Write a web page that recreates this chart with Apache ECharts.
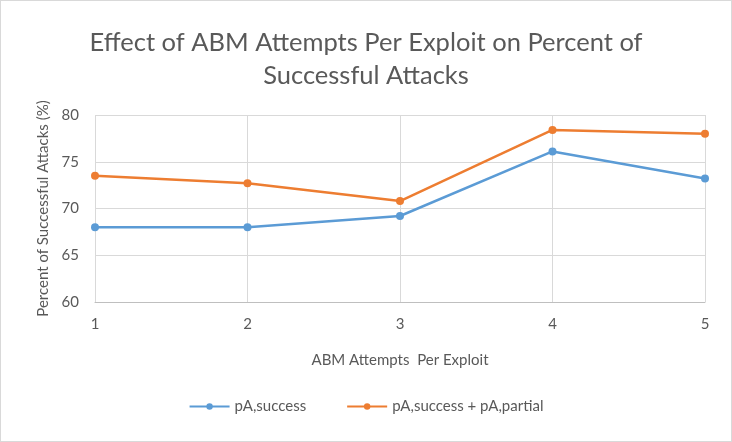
<!DOCTYPE html>
<html>
<head>
<meta charset="utf-8">
<script src="https://cdn.jsdelivr.net/npm/echarts@6/dist/echarts.min.js"></script>
<style>
  html, body { margin: 0; padding: 0; background: #fff; }
  #chart {
    width: 732px;
    height: 442px;
    box-sizing: border-box;
    border: 1px solid #d9d9d9;
  }
</style>
</head>
<body>
<div id="chart"></div>
<script>
  const categories = ['1', '2', '3', '4', '5']
  const successValues = [68.0, 68.0, 69.2, 76.1, 73.2]
  const partialValues = [73.5, 72.7, 70.8, 78.4, 78.0]
  const seriesNames = ['pA,success', 'pA,success + pA,partial']

  const textColor = '#595959'
  const fontFamily = 'Lato, "Open Sans", sans-serif'

  const chart = echarts.init(document.getElementById('chart'))

  chart.setOption({
    animation: false,
    color: ['#5B9BD5', '#ED7D31'],
    textStyle: { fontFamily: fontFamily, color: textColor },
    title: {
      text: 'Effect of ABM Attempts Per Exploit on Percent of\nSuccessful Attacks',
      left: 'center',
      top: 20,
      textStyle: {
        fontFamily: fontFamily,
        fontSize: 25.5,
        fontWeight: 'normal',
        color: textColor,
        lineHeight: 33,
        align: 'center'
      }
    },
    legend: {
      bottom: 22,
      left: 'center',
      itemWidth: 40,
      itemHeight: 8,
      itemGap: 40,
      textStyle: { fontFamily: fontFamily, fontSize: 15, color: textColor },
      data: seriesNames
    },
    grid: {
      left: 94,
      right: 26,
      top: 114,
      bottom: 139
    },
    xAxis: {
      type: 'category',
      data: categories,
      boundaryGap: false,
      name: 'ABM Attempts  Per Exploit',
      nameLocation: 'middle',
      nameGap: 51,
      nameTextStyle: { fontSize: 15, color: textColor },
      axisLine: { lineStyle: { color: '#bfbfbf', width: 1 } },
      axisTick: { show: false },
      axisLabel: { fontSize: 15, color: textColor, margin: 15 },
      splitLine: { show: true, lineStyle: { color: '#d9d9d9', width: 1 } }
    },
    yAxis: {
      type: 'value',
      min: 60,
      max: 80,
      interval: 5,
      name: 'Percent of Successful Attacks (%)',
      nameLocation: 'middle',
      nameGap: 43,
      nameTextStyle: { fontSize: 15, color: textColor },
      axisLine: { show: false },
      axisTick: { show: false },
      axisLabel: { fontSize: 15, color: textColor, margin: 16 },
      splitLine: { lineStyle: { color: '#d9d9d9', width: 1 } }
    },
    series: [
      {
        name: seriesNames[0],
        type: 'line',
        data: successValues,
        symbol: 'circle',
        symbolSize: 8,
        lineStyle: { width: 2.5 }
      },
      {
        name: seriesNames[1],
        type: 'line',
        data: partialValues,
        symbol: 'circle',
        symbolSize: 8,
        lineStyle: { width: 2.5 }
      }
    ]
  })
</script>
</body>
</html>
